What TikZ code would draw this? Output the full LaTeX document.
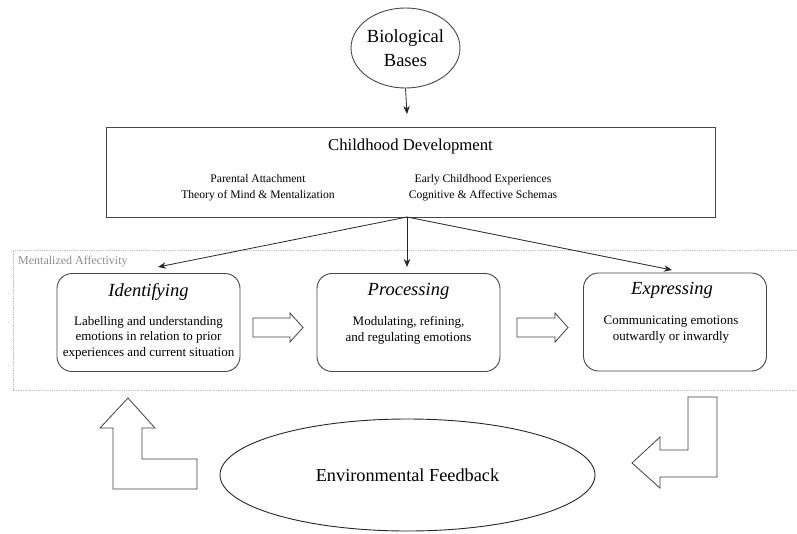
\documentclass[tikz,border=0pt]{standalone}
\usepackage{fontspec}
\setmainfont{Liberation Serif}
\usetikzlibrary{arrows.meta,shapes.geometric}
\tikzset{
  edge/.style={draw=gray!55!black, line width=0.9pt},
  conn/.style={draw=black!85, line width=0.8pt, -{Stealth[length=8pt,width=6.5pt]}},
  stagebox/.style={edge, rounded corners=15pt, minimum width=183pt, minimum height=98pt, inner sep=0pt},
  stagetitle/.style={font=\fontsize{18.5}{22}\selectfont\itshape, inner sep=0pt},
  stagebody/.style={font=\fontsize{13}{15.6}\selectfont, align=center, inner sep=0pt},
  hollow/.style={draw=gray!50!black, line width=0.8pt, fill=white},
}
\begin{document}
\begin{tikzpicture}[x=1pt,y=-1pt]
\useasboundingbox (0,0) rectangle (797,533);
% Biological bases
\node[ellipse, edge, minimum width=90pt, minimum height=80pt, inner sep=0pt,
      font=\fontsize{18.5}{24}\selectfont, align=center] (bio) at (405.5,48) {Biological\\Bases};
% Childhood development
\node[edge, minimum width=609pt, minimum height=90pt, inner sep=0pt] (cd) at (410.5,172) {};
\node[font=\fontsize{16.7}{20}\selectfont, inner sep=0pt] (cdt) at (410.5,146) {Childhood Development};
\node[font=\fontsize{11.6}{16}\selectfont, align=center, inner sep=0pt] (cdl) at (258,188) {Parental Attachment\\Theory of Mind \& Mentalization};
\node[font=\fontsize{11.6}{16}\selectfont, align=center, inner sep=0pt] (cdr) at (483,188) {Early Childhood Experiences\\Cognitive \& Affective Schemas};
\coordinate (cdb) at (407,217);
\coordinate (cdtop) at (407,114);
\draw[conn] (bio.south) -- (cdtop);
% Mentalized affectivity frame
\draw[gray!50, densely dotted, line width=0.8pt] (797,250) -- (13,250) -- (13,390) -- (797,390);
\node[anchor=west, text=gray!90, font=\fontsize{12}{14}\selectfont, inner sep=0pt] (ma) at (18,262) {Mentalized Affectivity};
% Stage boxes
\node[stagebox] (idb) at (148.5,322.5) {};
\node[stagetitle] (idt) at (148.5,292) {Identifying};
\node[stagebody] (idx) at (148.5,337.5) {Labelling and understanding\\emotions in relation to prior\\experiences and current situation};
\node[stagebox] (prb) at (408.5,322.5) {};
\node[stagetitle] (prt) at (408.5,291) {Processing};
\node[stagebody] (prx) at (408.5,330.5) {Modulating, refining,\\and regulating emotions};
\node[stagebox] (exb) at (675,322) {};
\node[stagetitle] (ext) at (672,290.5) {Expressing};
\node[stagebody] (exx) at (671,329.5) {Communicating emotions\\outwardly or inwardly};
% connectors from childhood development
\coordinate (tl) at (158,267);
\coordinate (tm) at (407,267);
\coordinate (tr) at (672,270);
\draw[conn] (cdb) -- (tl);
\draw[conn] (cdb) -- (tm);
\draw[conn] (cdb) -- (tr);
% hollow arrows between stages
\draw[hollow] (253,318) -- (290,318) -- (290,313) -- (303,327.5) -- (290,342) -- (290,337) -- (253,337) -- cycle;
\draw[hollow] (517,318) -- (555,318) -- (555,313) -- (568,327.5) -- (555,342) -- (555,337) -- (517,337) -- cycle;
% environmental feedback
\node[ellipse, draw=gray!30!black, line width=0.9pt, minimum width=375pt, minimum height=112pt, inner sep=0pt,
      font=\fontsize{18.3}{22}\selectfont] (env) at (407.5,475) {Environmental Feedback};
% bent arrows
\draw[hollow] (128,398) -- (155,428) -- (142,428) -- (142,459) -- (197,459) -- (197,489) -- (113,489) -- (113,428) -- (100,428) -- cycle;
\draw[hollow] (688,397) -- (717,397) -- (717,477) -- (660,477) -- (660,488) -- (632,463) -- (660,437) -- (660,450) -- (688,450) -- cycle;
\end{tikzpicture}
\end{document}
